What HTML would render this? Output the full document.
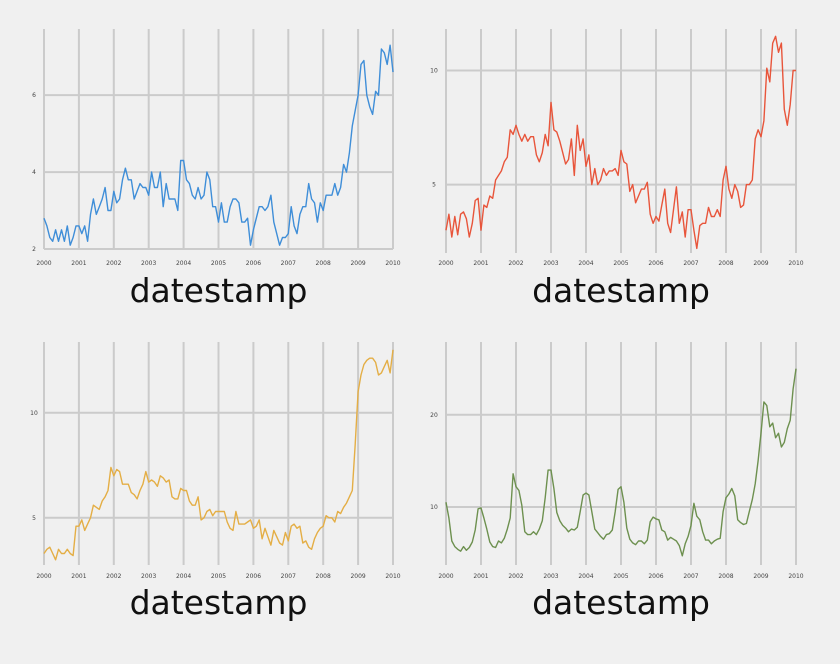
<!DOCTYPE html>
<html><head><meta charset="utf-8"><style>
body{margin:0;background:#f0f0f0;}
svg{display:block;font-family:"DejaVu Sans","Liberation Sans",sans-serif;}
</style></head><body>
<svg id="c" width="840" height="664">
<rect width="840" height="664" fill="#f0f0f0"/>
</svg>
<script>
const years = [2000,2001,2002,2003,2004,2005,2006,2007,2008,2009,2010];
const seriesBlue = [2.8,2.6,2.3,2.2,2.5,2.2,2.5,2.2,2.6,2.1,2.3,2.6,
2.6,2.4,2.6,2.2,2.9,3.3,2.9,3.1,3.3,3.6,3.0,3.0,
3.5,3.2,3.3,3.8,4.1,3.8,3.8,3.3,3.5,3.7,3.6,3.6,
3.4,4.0,3.6,3.6,4.0,3.1,3.7,3.3,3.3,3.3,3.0,4.3,
4.3,3.8,3.7,3.4,3.3,3.6,3.3,3.4,4.0,3.8,3.1,3.1,
2.7,3.2,2.7,2.7,3.1,3.3,3.3,3.2,2.7,2.7,2.8,2.1,
2.5,2.8,3.1,3.1,3.0,3.1,3.4,2.7,2.4,2.1,2.3,2.3,
2.4,3.1,2.6,2.4,2.9,3.1,3.1,3.7,3.3,3.2,2.7,3.2,
3.0,3.4,3.4,3.4,3.7,3.4,3.6,4.2,4.0,4.5,5.2,5.6,
6.0,6.8,6.9,6.0,5.7,5.5,6.1,6.0,7.2,7.1,6.8,7.3,6.6];
const seriesRed = [3.0,3.7,2.7,3.6,2.8,3.7,3.8,3.5,2.7,3.3,4.3,4.4,
3.0,4.1,4.0,4.5,4.4,5.2,5.4,5.6,6.0,6.2,7.4,7.2,
7.6,7.2,6.9,7.2,6.9,7.1,7.1,6.3,6.0,6.4,7.2,6.7,
8.6,7.4,7.3,6.9,6.4,5.9,6.1,7.0,5.4,7.6,6.5,7.0,
5.8,6.3,5.0,5.7,5.0,5.2,5.7,5.4,5.6,5.6,5.7,5.4,
6.5,6.0,5.9,4.7,5.0,4.2,4.5,4.8,4.8,5.1,3.7,3.3,
3.6,3.4,4.1,4.8,3.3,2.9,3.9,4.9,3.3,3.8,2.7,3.9,
3.9,3.0,2.2,3.2,3.3,3.3,4.0,3.6,3.6,3.9,3.6,5.2,
5.8,4.8,4.4,5.0,4.7,4.0,4.1,5.0,5.0,5.2,7.0,7.4,
7.1,7.8,10.1,9.5,11.2,11.5,10.8,11.2,8.3,7.6,8.5,10.0,10.0];
const seriesYellow = [3.3,3.5,3.6,3.3,3.0,3.5,3.3,3.3,3.5,3.3,3.2,4.6,
4.6,4.9,4.4,4.7,5.0,5.6,5.5,5.4,5.8,6.0,6.3,7.4,
7.0,7.3,7.2,6.6,6.6,6.6,6.2,6.1,5.9,6.3,6.6,7.2,
6.7,6.8,6.7,6.5,7.0,6.9,6.7,6.8,6.0,5.9,5.9,6.4,
6.3,6.3,5.8,5.6,5.6,6.0,4.9,5.0,5.3,5.4,5.1,5.3,
5.3,5.3,5.3,4.8,4.5,4.4,5.3,4.7,4.7,4.7,4.8,4.9,
4.5,4.6,4.9,4.0,4.5,4.1,3.7,4.4,4.1,3.8,3.7,4.3,
3.9,4.6,4.7,4.5,4.6,3.8,3.9,3.6,3.5,4.0,4.3,4.5,
4.6,5.1,5.0,5.0,4.8,5.3,5.2,5.5,5.7,6.0,6.3,8.5,
11.0,11.8,12.3,12.5,12.6,12.6,12.4,11.8,11.9,12.2,12.5,11.9,13.0];
const seriesGreen = [10.5,8.8,6.3,5.7,5.4,5.2,5.7,5.3,5.6,6.2,7.5,9.8,
9.9,8.8,7.6,6.2,5.7,5.6,6.3,6.1,6.6,7.6,8.8,13.6,
12.2,11.8,10.2,7.3,7.0,7.0,7.3,7.0,7.6,8.5,11.0,14.0,
14.0,12.0,9.4,8.5,8.0,7.7,7.3,7.6,7.5,7.8,9.5,11.3,
11.5,11.3,9.5,7.6,7.2,6.8,6.5,7.0,7.1,7.5,9.5,11.9,
12.2,10.5,7.7,6.5,6.1,5.9,6.3,6.3,6.0,6.4,8.4,8.9,
8.7,8.6,7.5,7.3,6.4,6.7,6.5,6.3,5.8,4.7,6.0,6.8,
8.0,10.4,9.0,8.6,7.3,6.4,6.4,6.0,6.3,6.5,6.6,9.5,
11.0,11.4,12.0,11.2,8.6,8.3,8.1,8.2,9.5,10.8,12.5,15.0,
18.0,21.4,21.0,18.7,19.1,17.5,18.0,16.5,17.0,18.5,19.4,22.8,25.0];
const yTicks1 = [2,4,6];
const yTicks2 = [5,10];
const yTicks3 = [5,10];
const yTicks4 = [10,20];

const NS="http://www.w3.org/2000/svg";
const svg=document.getElementById('c');
function mk(tag,attrs,parent){const e=document.createElementNS(NS,tag);for(const k in attrs)e.setAttribute(k,attrs[k]);(parent||svg).appendChild(e);return e;}

const panels=[
 {name:'blue',data:seriesBlue,ticks:yTicks1,color:'#3f8ed8',x0:44,x1:393,top:29,bot:249,ymin:2,ymax:7.72,lx:34,xl:265,title:292},
 {name:'red',data:seriesRed,ticks:yTicks2,color:'#e8553b',x0:446,x1:796,top:29,bot:253,ymin:2,ymax:11.82,lx:434,xl:265,title:292},
 {name:'yellow',data:seriesYellow,ticks:yTicks3,color:'#e4ae45',x0:44,x1:393,top:342,bot:565,ymin:2.75,ymax:13.37,lx:34,xl:578,title:604},
 {name:'green',data:seriesGreen,ticks:yTicks4,color:'#6d904f',x0:446,x1:796,top:342,bot:565,ymin:3.7,ymax:27.9,lx:434,xl:578,title:604}
];
panels.forEach(p=>{
 const g=mk('g',{});
 
 
 const xs=i=>p.x0+(p.x1-p.x0)*i/120;
 const ys=v=>p.bot-(v-p.ymin)/(p.ymax-p.ymin)*(p.bot-p.top);
 years.forEach((yr,k)=>{
  const x=xs(k*12);
  const l=mk('line',{x1:x,x2:x,y1:p.top,y2:p.bot,stroke:'#cbcbcb','stroke-width':2},g);
  
  
  const t=mk('text',{x:x,y:p.xl,'font-size':6,'text-anchor':'middle',fill:'#444'},g);
  t.textContent=yr;
  
  
 });
 p.ticks.forEach(v=>{
  const y=ys(v);
  const l=mk('line',{x1:p.x0,x2:p.x1,y1:y,y2:y,stroke:'#cbcbcb','stroke-width':2},g);
  
  
  const t=mk('text',{x:p.lx,y:y+2,'font-size':6,'text-anchor':'middle',fill:'#444'},g);
  t.textContent=v;
  
  
 });
 const pts=p.data.map((v,i)=>xs(i).toFixed(1)+','+ys(v).toFixed(1)).join(' ');
 const pl=mk('polyline',{points:pts,fill:'none',stroke:p.color,'stroke-width':1.4,'stroke-linejoin':'round'},g);
 
 
 const tt=mk('text',{x:(p.x0+p.x1)/2,y:p.title+10,'font-size':33,'text-anchor':'middle',fill:'#111'},g);
 tt.textContent='datestamp';
 
 
});
</script>
</body></html>
